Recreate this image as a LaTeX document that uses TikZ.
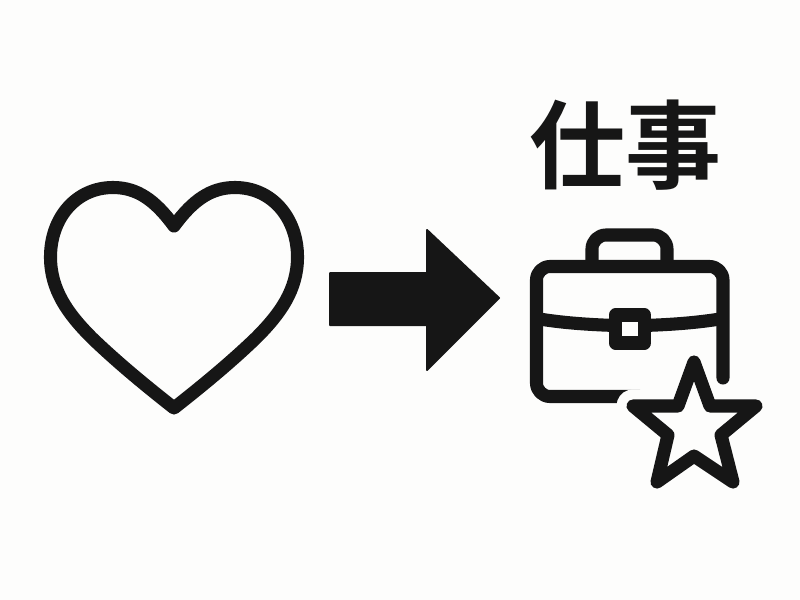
\documentclass[tikz,border=0pt]{standalone}
\usepackage{xcolor}
\usepackage{fontspec}
\newfontfamily\cjk{Noto Sans CJK JP Bold}
\definecolor{inkcol}{HTML}{161616}
\definecolor{papercol}{HTML}{FDFDFC}
\tikzset{
    icon/.style={draw=inkcol, line width=9.8pt, line join=round, line cap=round},
    haloline/.style={draw=papercol, line width=24.75pt, line join=round, line cap=round}
}

\begin{document}
\begin{tikzpicture}[x=0.75pt, y=-0.75pt]
    \fill[papercol] (0,0) rectangle (800,600);
    \useasboundingbox (0,0) rectangle (800,600);

    \coordinate (N) at (174,226);
    \coordinate (T) at (174,408);

    \draw[icon] (N) .. controls (155,200) and (137,187.5) .. (113,187.5)
        .. controls (76,187.5) and (50.5,218) .. (50.5,257)
        .. controls (50.5,290) and (68,314) .. (92,338)
        .. controls (118,363) and (146,386) .. (T)
        .. controls (202,386) and (230,363) .. (256,338)
        .. controls (280,314) and (297.5,290) .. (297.5,257)
        .. controls (297.5,218) and (272,187.5) .. (235,187.5)
        .. controls (211,187.5) and (193,200) .. (N);

    \fill[inkcol, draw=inkcol, line width=1.5pt, line join=round] (330,273) -- (427,273) -- (427,230) -- (499,298)
        -- (427,370) -- (427,325) -- (330,325) -- cycle;

    \node (title) at (625.5,145) {\cjk\fontsize{72pt}{72pt}\selectfont\textcolor{inkcol}{仕事}};

    \draw[icon, line cap=butt] (592,266.5) -- (592,249) arc[start angle=180, end angle=270, radius=14] -- (653,235)
        arc[start angle=270, end angle=360, radius=14] -- (667,266.5);
    \draw[icon] (723,378) -- (723,280) arc[start angle=0, end angle=-90, radius=13.5] -- (550,266.5)
        arc[start angle=-90, end angle=-180, radius=13.5] -- (536.5,383) arc[start angle=180, end angle=90, radius=13.5]
        -- (640,396.5);
    \draw[icon, line cap=butt] (536.5,318.5) .. controls (560,322.5) and (585,324.5) .. (615.5,325.5);
    \draw[icon, line cap=butt] (723,318.5) .. controls (699,322.5) and (674,324.5) .. (644.5,325.5);
    \draw[icon] (615.5,315) rectangle (644.5,343);

    \coordinate (S1) at (694,362);
    \coordinate (S2) at (710,406);
    \coordinate (S3) at (756,406);
    \coordinate (S4) at (721,435);
    \coordinate (S5) at (733,482);
    \coordinate (S6) at (694,456);
    \coordinate (S7) at (657,482);
    \coordinate (S8) at (668,435);
    \coordinate (S9) at (633,406);
    \coordinate (S10) at (678,406);

    \fill[papercol] (S1) -- (S2) -- (S3) -- (S4) -- (S5) -- (S6) -- (S7) -- (S8) -- (S9) -- (S10) -- cycle;
    \draw[haloline] (S10) -- (S9) -- (S8);
    \draw[icon] (S1) -- (S2) -- (S3) -- (S4) -- (S5) -- (S6) -- (S7) -- (S8) -- (S9) -- (S10) -- cycle;
\end{tikzpicture}
\end{document}
